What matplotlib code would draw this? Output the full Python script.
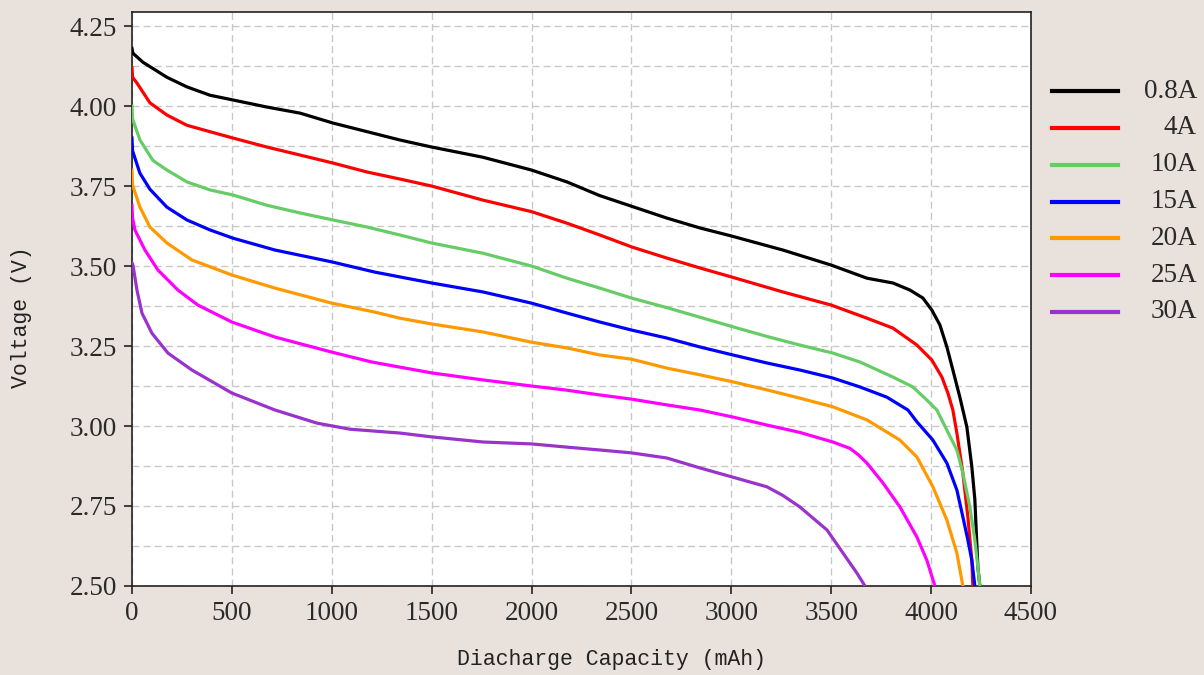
import numpy as np
import matplotlib
matplotlib.use("Agg")
import matplotlib.pyplot as plt
from matplotlib.lines import Line2D
from matplotlib.ticker import MultipleLocator, FormatStrFormatter

# discharge curves (capacity mAh, voltage V)
labels = ["0.8A", "4A", "10A", "15A", "20A", "25A", "30A"]
colors = ["#000000", "#ff0000", "#66cc66", "#0000ff", "#ff9900", "#ff00ff", "#9933cc"]

x_08 = [0, 5, 55, 175, 275, 390, 506, 675, 841, 1006, 1341, 1500, 1757, 2000, 2177, 2342,
        2500, 2677, 2843, 3000, 3258, 3500, 3679, 3809, 3894, 3959, 4004, 4044, 4079, 4109,
        4144, 4179, 4204, 4219, 4234, 4244]
v_08 = [4.18, 4.165, 4.137, 4.09, 4.06, 4.034, 4.019, 3.997, 3.978, 3.947, 3.894, 3.872, 3.84,
        3.80, 3.763, 3.72, 3.687, 3.65, 3.619, 3.594, 3.55, 3.503, 3.462, 3.447, 3.425, 3.40,
        3.362, 3.316, 3.247, 3.175, 3.09, 2.997, 2.872, 2.77, 2.56, 2.50]

x_4 = [0, 3, 25, 90, 175, 275, 390, 506, 675, 841, 1006, 1176, 1341, 1500, 1757, 2000, 2177,
       2342, 2500, 2677, 2843, 3000, 3258, 3500, 3679, 3809, 3929, 4004, 4054, 4084, 4109,
       4129, 4159, 4184, 4204, 4209]
v_4 = [4.12, 4.09, 4.072, 4.01, 3.972, 3.94, 3.92, 3.90, 3.872, 3.847, 3.822, 3.794, 3.772,
       3.75, 3.706, 3.67, 3.634, 3.597, 3.56, 3.525, 3.494, 3.466, 3.419, 3.378, 3.337, 3.306,
       3.253, 3.206, 3.153, 3.103, 3.05, 2.978, 2.853, 2.716, 2.58, 2.50]

x_10 = [0, 3, 40, 105, 175, 275, 390, 506, 675, 841, 1006, 1176, 1341, 1500, 1757, 2000, 2177,
        2342, 2500, 2677, 2843, 3008, 3178, 3343, 3508, 3644, 3809, 3909, 3979, 4029, 4079,
        4129, 4159, 4194, 4219, 4234, 4244]
v_10 = [4.0, 3.96, 3.894, 3.83, 3.80, 3.763, 3.738, 3.722, 3.69, 3.666, 3.644, 3.622, 3.597,
        3.572, 3.54, 3.50, 3.462, 3.431, 3.40, 3.37, 3.34, 3.31, 3.28, 3.253, 3.228, 3.20,
        3.153, 3.122, 3.081, 3.05, 2.987, 2.925, 2.853, 2.747, 2.644, 2.56, 2.50]

x_15 = [0, 3, 40, 90, 175, 275, 390, 506, 716, 1000, 1216, 1341, 1500, 1757, 2000, 2177, 2342,
        2500, 2677, 2843, 3008, 3178, 3343, 3508, 3644, 3779, 3884, 3929, 4009, 4079, 4129,
        4159, 4184, 4204, 4219]
v_15 = [3.90, 3.86, 3.79, 3.74, 3.684, 3.644, 3.613, 3.587, 3.55, 3.513, 3.481, 3.466, 3.447,
        3.419, 3.384, 3.353, 3.325, 3.30, 3.275, 3.247, 3.222, 3.197, 3.175, 3.15, 3.122, 3.09,
        3.05, 3.013, 2.956, 2.884, 2.80, 2.716, 2.644, 2.58, 2.50]

x_20 = [0, 3, 40, 90, 175, 300, 500, 716, 1000, 1216, 1341, 1500, 1757, 2000, 2177, 2342, 2500,
        2677, 2843, 3008, 3178, 3343, 3508, 3679, 3844, 3929, 4009, 4079, 4129, 4159]
v_20 = [3.80, 3.753, 3.684, 3.622, 3.572, 3.519, 3.472, 3.431, 3.384, 3.356, 3.337, 3.319,
        3.294, 3.262, 3.244, 3.222, 3.209, 3.181, 3.16, 3.138, 3.113, 3.087, 3.06, 3.019, 2.956,
        2.903, 2.81, 2.706, 2.603, 2.50]

x_25 = [0, 3, 15, 65, 130, 230, 330, 500, 716, 1000, 1201, 1341, 1500, 1757, 2000, 2177, 2342,
        2500, 2677, 2843, 3008, 3178, 3343, 3508, 3594, 3636, 3679, 3759, 3844, 3929, 3979, 4019]
v_25 = [3.69, 3.65, 3.6125, 3.55, 3.4875, 3.425, 3.378, 3.325, 3.278, 3.231, 3.20, 3.184, 3.166,
        3.144, 3.125, 3.112, 3.097, 3.084, 3.066, 3.05, 3.028, 3.003, 2.98, 2.95, 2.93, 2.91,
        2.884, 2.822, 2.747, 2.653, 2.58, 2.50]

x_30 = [0, 5, 25, 50, 100, 180, 300, 500, 716, 926, 1091, 1341, 1500, 1757, 2000, 2177, 2342,
        2500, 2677, 2843, 3008, 3178, 3258, 3343, 3479, 3559, 3629, 3669]
v_30 = [3.51, 3.503, 3.425, 3.353, 3.29, 3.228, 3.175, 3.103, 3.05, 3.009, 2.99, 2.978, 2.966,
        2.95, 2.944, 2.934, 2.925, 2.916, 2.90, 2.869, 2.84, 2.81, 2.783, 2.747, 2.675, 2.603,
        2.54, 2.50]

xs = [x_08, x_4, x_10, x_15, x_20, x_25, x_30]
vs = [v_08, v_4, v_10, v_15, v_20, v_25, v_30]

bg = "#e9e2dc"
tick_font = "Liberation Serif"
label_font = "Liberation Mono"

fig = plt.figure(figsize=(12.04, 6.75), dpi=100, facecolor=bg)
ax = fig.add_axes([0.1096, 0.1319, 0.7467, 0.8503])
ax.set_facecolor("white")

for x, v, c in zip(xs, vs, colors):
    ax.plot(x, v, color=c, lw=2.3, solid_joinstyle="round", zorder=3)

ax.set_xlim(0, 4500)
ax.set_ylim(2.5, 4.294)
ax.xaxis.set_major_locator(MultipleLocator(500))
ax.yaxis.set_major_locator(MultipleLocator(0.25))
ax.yaxis.set_minor_locator(MultipleLocator(0.125))
ax.yaxis.set_major_formatter(FormatStrFormatter("%.2f"))

ax.grid(True, which="major", axis="x", color="#c8c8c8", ls=(0, (5, 3)), lw=1.0)
ax.grid(True, which="both", axis="y", color="#c8c8c8", ls=(0, (5, 3)), lw=1.0)
ax.set_axisbelow(True)

ax.tick_params(axis="both", which="major", direction="out", length=6, width=1.2,
               color="#222222", pad=5, labelsize=19.5, labelcolor="#2a2a2a")
ax.tick_params(axis="y", which="minor", length=0)
for lab in ax.get_xticklabels() + ax.get_yticklabels():
    lab.set_fontfamily(tick_font)

for sp in ax.spines.values():
    sp.set_color("#222222")
    sp.set_linewidth(1.2)

ax.set_xlabel("Diacharge Capacity (mAh)", fontfamily=label_font, fontsize=15.5, color="#222222")
ax.set_ylabel("Voltage (V)", fontfamily=label_font, fontsize=15.5, color="#222222")
ax.xaxis.set_label_coords(0.533, -0.11)
ax.yaxis.set_label_coords(-0.111, 0.469)

# legend drawn at the right, labels right-aligned like the original
ys = np.linspace(1 - 91 / 675, 1 - 312 / 675, len(labels))
for lab, c, yy in zip(labels, colors, ys):
    fig.add_artist(Line2D([1052 / 1204, 1118 / 1204], [yy, yy], color=c, lw=3,
                          transform=fig.transFigure))
    fig.text(1197 / 1204, yy, lab, ha="right", va="center", fontsize=19.5,
             fontfamily=tick_font, color="#2a2a2a")

fig.savefig("out.png", dpi=100, facecolor=bg)
